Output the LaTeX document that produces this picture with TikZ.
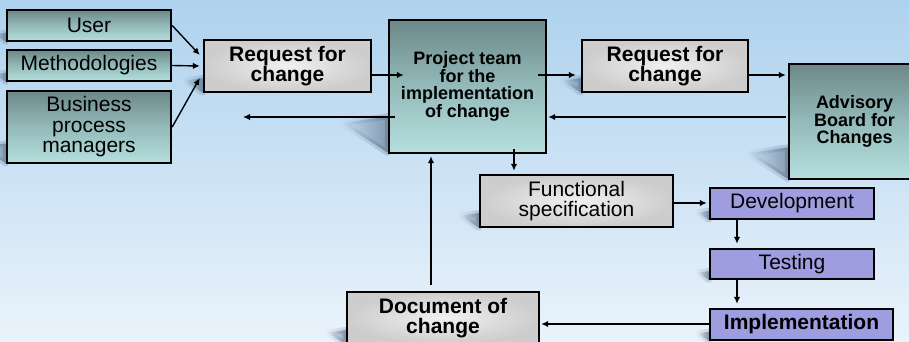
\documentclass[tikz,border=0pt]{standalone}
\usepackage{fontspec}
\setmainfont{Liberation Sans}
\usetikzlibrary{arrows.meta,calc,fadings}
\pgfdeclarelayer{bgl}
\pgfdeclarelayer{shl}
\pgfsetlayers{bgl,shl,main}
\definecolor{bgtop}{RGB}{174,210,238}
\definecolor{bgbot}{RGB}{234,243,251}
\definecolor{tealtop}{RGB}{108,136,136}
\definecolor{tealmid}{RGB}{148,186,186}
\definecolor{tealbot}{RGB}{180,224,222}
\definecolor{purp}{RGB}{157,157,224}
\definecolor{marbin}{RGB}{240,240,240}
\definecolor{marbout}{RGB}{205,205,205}
\definecolor{shc}{RGB}{50,70,100}
\newcommand{\wshadowpath}[1]{let \p1=(#1.south west), \p2=(#1.north west), \n1={\y2-\y1} in
  (\x1,{\y1+0.28*\n1}) -- ({\x1-0.34*\n1},{\y1+0.23*\n1}) -- (\x1,{\y1+0.01*\n1}) -- cycle}
\newcommand{\wshadow}[1]{%
  \draw[shc, line width=6pt, opacity=0.22, line join=round, path fading=west] \wshadowpath{#1};
  \fill[shc, opacity=0.45, path fading=west] \wshadowpath{#1};}
\tikzset{
  x=1pt, y=-1pt,
  box/.style={draw=black, line width=2.4pt, inner sep=0pt, align=center},
  teal/.style={box, top color=tealtop, bottom color=tealbot, middle color=tealmid},
  marble/.style={box, inner color=marbin, outer color=marbout},
  purple/.style={box, fill=purp},
  txt/.style={font=\fontsize{21}{20.5}\selectfont},
  btxt/.style={font=\fontsize{21}{20.5}\selectfont\bfseries},
  stxt/.style={font=\fontsize{18}{17.5}\selectfont\bfseries},
  conn/.style={line width=1.4pt, -{Latex[length=7pt,width=6.5pt]}},
}
\begin{document}
\begin{tikzpicture}
\useasboundingbox (0,0) rectangle (909,341);
\begin{pgfonlayer}{bgl}
  \shade[top color=bgtop, bottom color=bgbot] (0,0) rectangle (909,341);
\end{pgfonlayer}
\clip (0,0) rectangle (909,341);
% nodes
\node[teal, txt, minimum width=164pt, minimum height=31pt] (user) at (89,25.5) {User};
\node[teal, txt, minimum width=164pt, minimum height=31pt] (meth) at (89,65.5) {Methodologies};
\node[teal, txt, minimum width=164pt, minimum height=72pt] (bpm) at (89,127) {Business\\process\\managers};
\node[marble, btxt, minimum width=167pt, minimum height=52pt] (req1) at (287.5,66) {Request for\\change};
\node[teal, stxt, minimum width=157pt, minimum height=133pt] (team) at (467.5,86.5) {Project team\\for the\\implementation\\of change};
\node[marble, btxt, minimum width=166pt, minimum height=52pt] (req2) at (665,66) {Request for\\change};
\node[teal, stxt, minimum width=131pt, minimum height=115pt] (adv) at (854.5,121.5) {Advisory\\Board for\\Changes};
\node[marble, txt, minimum width=193pt, minimum height=52pt] (fs) at (576.5,201) {Functional\\specification};
\node[purple, txt, minimum width=164pt, minimum height=31pt] (dev) at (792,203.5) {Development};
\node[purple, txt, minimum width=164pt, minimum height=30pt] (test) at (792,264) {Testing};
\node[purple, btxt, minimum width=183pt, minimum height=31pt] (impl) at (801.5,324.5) {Implementation};
\node[marble, btxt, minimum width=192pt, minimum height=52pt] (doc) at (443,318) {Document of\\change};
\coordinate (ret) at (243,117);
% shadows
\begin{pgfonlayer}{shl}
  \wshadow{user}\wshadow{meth}\wshadow{bpm}\wshadow{req1}\wshadow{team}
  \wshadow{req2}\wshadow{adv}\wshadow{fs}\wshadow{dev}\wshadow{test}
  \wshadow{impl}\wshadow{doc}
\end{pgfonlayer}
% connectors
\draw[conn] (user.east) -- ($(req1.west)+(-3,-11)$);
\draw[conn] (meth.east) -- ($(req1.west)+(-3,0)$);
\draw[conn] (bpm.east) -- ($(req1.west)+(-3,12)$);
\draw[conn] ($(req1.east)+(0,9)$) -- ($(team.west)+(16,-11.5)$);
\draw[conn] ($(team.east)+(-9,-11.5)$) -- ($(req2.west)+(-5,9)$);
\draw[conn] ($(req2.east)+(0,9)$) -- ($(adv.west)+(-2,-46.5)$);
\draw[conn] ($(adv.west)+(-2,-4.5)$) -- ($(team.east)+(1,30.5)$);
\draw[conn] ($(team.west)+(7,30.5)$) -- (ret);
\draw[conn] ($(team.south)+(46.5,-5)$) -- ($(fs.north)+(-62.5,-3)$);
\draw[conn] ($(fs.east)+(0,2)$) -- ($(dev.west)+(-2,-0.5)$);
\draw[conn] ($(dev.south)+(-55,0)$) -- ($(test.north)+(-55,-4)$);
\draw[conn] ($(test.south)+(-55,0)$) -- ($(impl.north)+(-64.5,-4)$);
\draw[conn] ($(impl.west)+(0,-0.5)$) -- ($(doc.east)+(1,6)$);
\draw[conn] ($(doc.north)+(-12,-6)$) -- ($(team.south)+(-36.5,2)$);
\end{tikzpicture}
\end{document}
